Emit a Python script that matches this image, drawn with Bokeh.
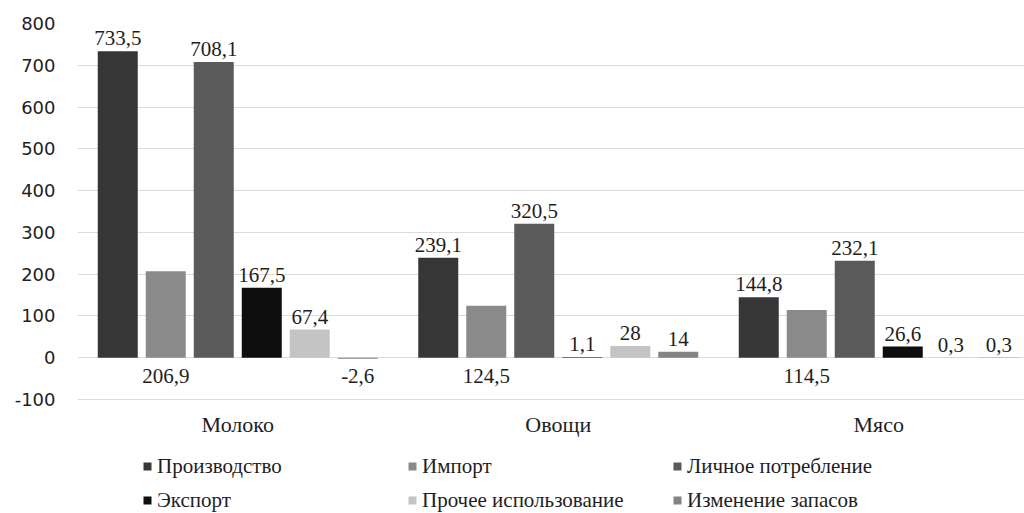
import numpy as np
from bokeh.plotting import figure
from bokeh.models import Range1d, FixedTicker, Legend, LegendItem, ColumnDataSource
from bokeh.core.properties import value
from bokeh.embed import file_html
from bokeh.resources import INLINE

categories = ["Молоко", "Овощи", "Мясо"]
series_names = ["Производство", "Импорт", "Личное потребление",
                "Экспорт", "Прочее использование", "Изменение запасов"]
production = [733.5, 239.1, 144.8]
imports = [206.9, 124.5, 114.5]
personal_use = [708.1, 320.5, 232.1]
export = [167.5, 1.1, 26.6]
other_use = [67.4, 28, 0.3]
stock_change = [-2.6, 14, 0.3]
y_ticks = [-100, 0, 100, 200, 300, 400, 500, 600, 700, 800]

series_values = [production, imports, personal_use, export, other_use, stock_change]
colors = ["#363636", "#8a8a8a", "#5a5a5a", "#0e0e0e", "#c4c4c4", "#838383"]

SERIF = "Liberation Serif"
TXT = "#1e1e1e"

W, H = 1024, 513
left, top = 77, 23
axis_bottom_px = 399            # pixel row of the -100 gridline
frame_w = W - left
cat_px = 320.5
px_per_unit = (axis_bottom_px - top) / (y_ticks[-1] - y_ticks[0])
y_start = y_ticks[0] - (H - axis_bottom_px) / px_per_unit

p = figure(width=W, height=H,
           x_range=Range1d(0, frame_w / cat_px), y_range=Range1d(y_start, y_ticks[-1]),
           output_backend="svg", toolbar_location=None,
           min_border_left=left, min_border_right=0, min_border_top=top, min_border_bottom=0)
p.outline_line_color = None
p.background_fill_color = "white"
p.border_fill_color = "white"

def fmt(v):
    return f"{v:g}".replace(".", ",")

LBL = dict(text_align="center", text_font=value(SERIF), text_font_size="21px", text_color=TXT)

renderers = []
cat_centers = np.arange(len(categories)) + 0.5
for i, (name, vals, col) in enumerate(zip(series_names, series_values, colors)):
    xs = cat_centers + (i - 2.5) * 48 / cat_px
    src = ColumnDataSource(dict(x=xs, top=vals))
    r = p.vbar(x="x", top="top", bottom=0, width=40 / cat_px, source=src,
               fill_color=col, line_color=None)
    renderers.append(r)
    vals = np.array(vals, dtype=float)
    labels = [fmt(v) for v in vals]
    if name == "Импорт":
        p.text(x=xs, y=np.zeros_like(vals), text=labels, text_baseline="top", y_offset=11, **LBL)
        continue
    pos = np.where(vals >= 0)[0]
    neg = np.where(vals < 0)[0]
    if len(pos):
        p.text(x=xs[pos], y=vals[pos], text=[labels[k] for k in pos],
               text_baseline="alphabetic", y_offset=-13, **LBL)
    if len(neg):
        p.text(x=xs[neg], y=vals[neg], text=[labels[k] for k in neg],
               text_baseline="top", y_offset=10, **LBL)

# category labels under the -100 gridline
p.text(x=cat_centers, y=[y_ticks[0]] * len(categories), text=categories,
       text_align="center", text_baseline="middle", y_offset=25,
       text_font=value(SERIF), text_font_size="22px", text_color=TXT)

p.xaxis.visible = False

p.yaxis.ticker = FixedTicker(ticks=y_ticks)
p.yaxis.major_label_overrides = {t: str(t) for t in y_ticks}
p.yaxis.axis_line_color = None
p.yaxis.major_tick_line_color = None
p.yaxis.major_tick_out = 0
p.yaxis.major_tick_in = 0
p.yaxis.minor_tick_line_color = None
p.yaxis.major_label_standoff = 22
p.yaxis.major_label_text_font = "DejaVu Sans"
p.yaxis.major_label_text_font_size = "18px"
p.yaxis.major_label_text_color = TXT

p.xgrid.grid_line_color = None
p.ygrid.ticker = FixedTicker(ticks=y_ticks)
p.ygrid.grid_line_color = "#dcdcdc"
p.ygrid.grid_line_width = 1

legend_cols = [(0, 3, 65), (1, 4, 330), (2, 5, 595)]
for a, b, lx in legend_cols:
    leg = Legend(items=[LegendItem(label=series_names[a], renderers=[renderers[a]]),
                        LegendItem(label=series_names[b], renderers=[renderers[b]])],
                 location=(lx, 0), orientation="vertical",
                 border_line_color=None, background_fill_alpha=0,
                 padding=0, margin=0, spacing=8, label_height=26,
                 glyph_height=10, glyph_width=10, label_standoff=5)
    leg.label_text_font = SERIF
    leg.label_text_font_size = "21px"
    leg.label_text_color = TXT
    p.add_layout(leg)

open("out.html", "w").write(file_html(p, INLINE))
